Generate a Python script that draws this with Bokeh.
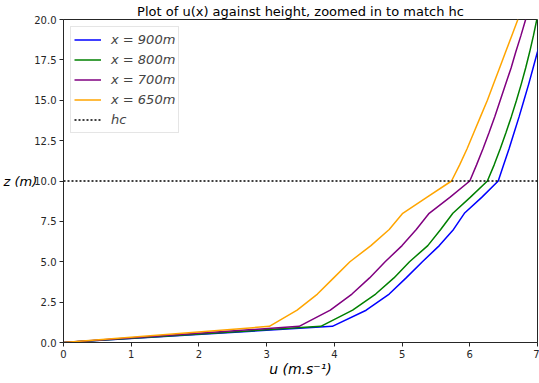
from bokeh.plotting import figure
from bokeh.models import Range1d, FixedTicker, PrintfTickFormatter, Legend, LegendItem
from bokeh.embed import file_html
from bokeh.resources import INLINE

# ---- data ----
z_levels = [0, 1, 2, 3, 4, 5, 6, 7, 8, 9, 10, 11, 12, 13, 14, 15, 16, 17, 18, 19, 20]
u_900 = [0, 3.97, 4.47, 4.81, 5.06, 5.30, 5.55, 5.76, 5.92, 6.18, 6.42,
         6.50, 6.58, 6.655, 6.73, 6.80, 6.87, 6.935, 7.00, 7.06, 7.12]
u_800 = [0, 3.80, 4.27, 4.61, 4.88, 5.11, 5.38, 5.57, 5.75, 6.01, 6.26,
         6.36, 6.45, 6.535, 6.615, 6.69, 6.76, 6.825, 6.885, 6.94, 6.99]
u_700 = [0, 3.48, 3.94, 4.26, 4.52, 4.75, 5.00, 5.21, 5.40, 5.71, 6.00,
         6.10, 6.195, 6.285, 6.37, 6.45, 6.53, 6.61, 6.68, 6.755, 6.825]
u_650 = [0, 3.04, 3.45, 3.75, 3.99, 4.23, 4.54, 4.81, 5.01, 5.37, 5.73,
         5.85, 5.96, 6.06, 6.16, 6.26, 6.35, 6.44, 6.53, 6.62, 6.71]
hc = 10
series_labels = ["x = 900m", "x = 800m", "x = 700m", "x = 650m"]
x_limits = [0, 7]
y_limits = [0, 20]
x_ticks = [0, 1, 2, 3, 4, 5, 6, 7]
y_ticks = [0, 2.5, 5, 7.5, 10, 12.5, 15, 17.5, 20]
title_text = "Plot of u(x) against height, zoomed in to match hc"
xlabel_text = "u (m.s\u207b\u00b9)"
ylabel_text = "z (m)"

colors = ["#0000ff", "#008000", "#800080", "#ffa500"]
FONT = "DejaVu Sans"

p = figure(width=539, height=383, output_backend="svg", toolbar_location=None,
           x_range=Range1d(*x_limits), y_range=Range1d(*y_limits),
           min_border_left=62, min_border_right=2, min_border_top=18, min_border_bottom=41,
           title=title_text)
p.title.text_font = FONT
p.title.text_font_size = "13px"
p.title.text_font_style = "normal"
p.title.align = "center"
p.title.standoff = 2
p.title.offset = 0
p.title.text_color = "black"

p.grid.visible = False
p.outline_line_color = "#262626"
p.outline_line_width = 1
p.background_fill_color = "white"
p.border_fill_color = "white"

for ax in (p.xaxis, p.yaxis):
    ax.axis_line_color = "#262626"
    ax.major_tick_line_color = "#262626"
    ax.major_tick_in = 0
    ax.major_tick_out = 4
    ax.minor_tick_line_color = None
    ax.major_label_text_font = FONT
    ax.major_label_text_font_size = "10px"
    ax.major_label_text_color = "#262626"
    ax.major_label_standoff = 3
    ax.axis_label_text_font = FONT
    ax.axis_label_text_font_size = "14px"
    ax.axis_label_text_font_style = "italic"
    ax.axis_label_text_color = "black"

p.xaxis.ticker = FixedTicker(ticks=x_ticks)
p.yaxis.ticker = FixedTicker(ticks=y_ticks)
p.yaxis.formatter = PrintfTickFormatter(format="%.1f")

p.xaxis.axis_label = xlabel_text
p.xaxis.axis_label_standoff = 0
p.yaxis.axis_label = ylabel_text
p.yaxis.axis_label_text_font_size = "13px"
p.yaxis.axis_label_orientation = "horizontal"
p.yaxis.axis_label_standoff = -6

renderers = []
for u, c in zip([u_900, u_800, u_700, u_650], colors):
    r = p.line(u, z_levels, line_color=c, line_width=1.5)
    renderers.append(r)

r_hc = p.line(x_limits, [hc, hc], line_color="black", line_width=1.5, line_dash="2 2")

items = [LegendItem(label=lab, renderers=[r]) for lab, r in zip(series_labels, renderers)]
items.append(LegendItem(label="hc", renderers=[r_hc]))
legend = Legend(items=items, location="top_left", margin=7, padding=3, spacing=1,
                label_text_font=FONT, label_text_font_size="13px", label_text_font_style="italic",
                label_height=19, glyph_height=19, glyph_width=27, label_standoff=10,
                border_line_color="#cccccc", border_line_width=1,
                background_fill_color="white", background_fill_alpha=0.8)
p.add_layout(legend)

open("out.html", "w").write(file_html(p, INLINE))
